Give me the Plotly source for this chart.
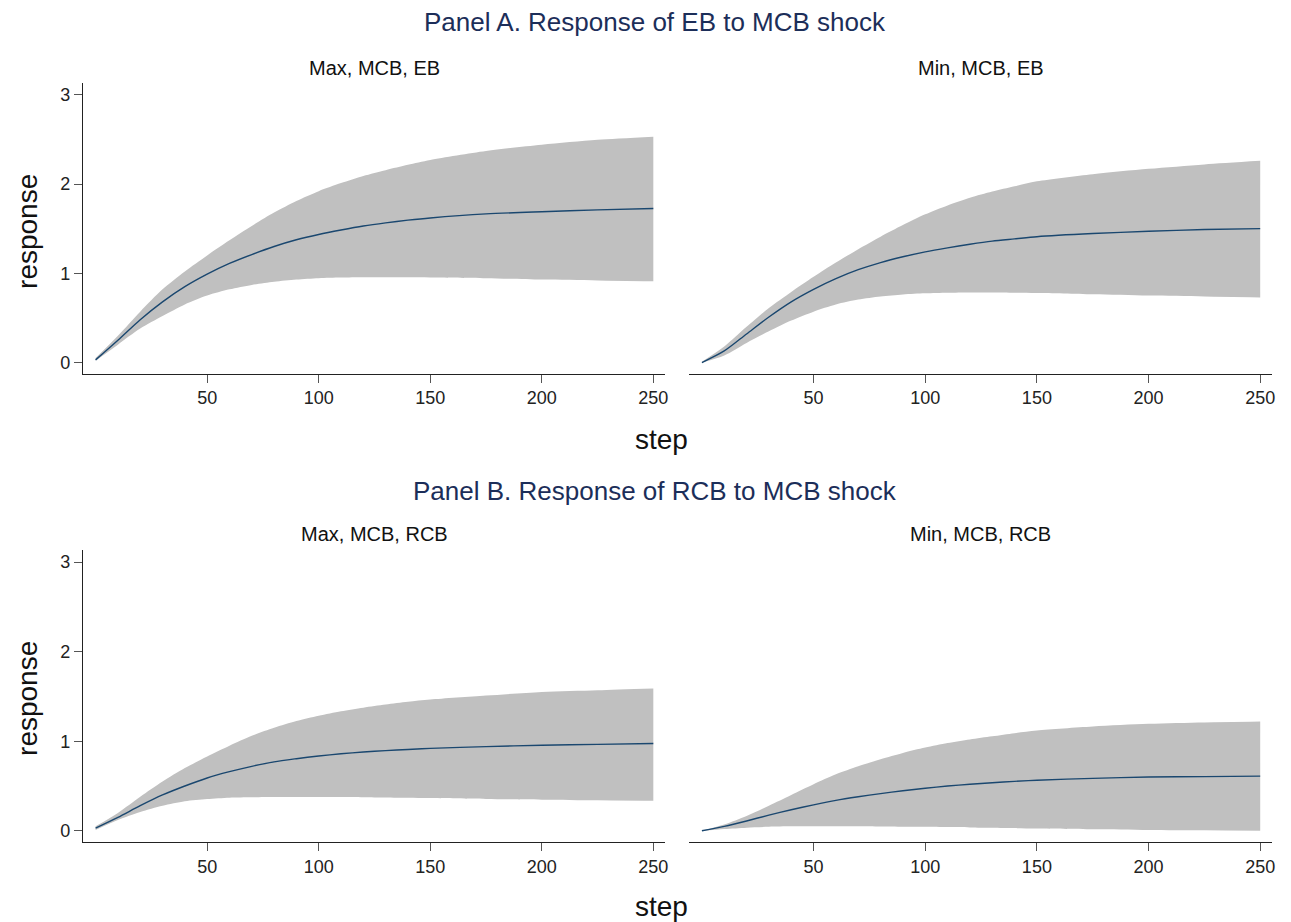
import plotly.graph_objects as go

# ---------------- data ----------------
steps = [0, 10, 20, 30, 40, 50, 60, 70, 80, 90, 100, 110, 120, 130, 140, 150, 175, 200, 225, 250]

# Panel A, left: Max, MCB, EB
a_max_irf = [0.03, 0.25, 0.48, 0.68, 0.85, 0.99, 1.11, 1.21, 1.30, 1.375, 1.435, 1.485, 1.53, 1.565, 1.595, 1.62, 1.665, 1.69, 1.71, 1.725]
a_max_hi  = [0.05, 0.30, 0.57, 0.82, 1.02, 1.20, 1.37, 1.53, 1.68, 1.81, 1.92, 2.01, 2.09, 2.155, 2.215, 2.27, 2.37, 2.44, 2.495, 2.53]
a_max_lo  = [0.02, 0.20, 0.38, 0.52, 0.65, 0.75, 0.82, 0.87, 0.905, 0.93, 0.945, 0.952, 0.955, 0.956, 0.955, 0.953, 0.945, 0.93, 0.92, 0.91]

# Panel A, right: Min, MCB, EB
a_min_irf = [0.00, 0.13, 0.32, 0.51, 0.68, 0.82, 0.94, 1.04, 1.12, 1.185, 1.24, 1.285, 1.325, 1.36, 1.385, 1.41, 1.445, 1.47, 1.49, 1.50]
a_min_hi  = [0.01, 0.18, 0.40, 0.61, 0.79, 0.96, 1.12, 1.27, 1.41, 1.54, 1.66, 1.76, 1.845, 1.915, 1.975, 2.03, 2.11, 2.17, 2.22, 2.26]
a_min_lo  = [0.00, 0.08, 0.22, 0.35, 0.47, 0.57, 0.65, 0.705, 0.74, 0.762, 0.775, 0.782, 0.785, 0.785, 0.783, 0.78, 0.765, 0.75, 0.74, 0.73]

# Panel B, left: Max, MCB, RCB
b_max_irf = [0.03, 0.15, 0.28, 0.40, 0.50, 0.59, 0.66, 0.72, 0.77, 0.805, 0.835, 0.86, 0.88, 0.895, 0.908, 0.92, 0.94, 0.955, 0.965, 0.975]
b_max_hi  = [0.05, 0.20, 0.38, 0.55, 0.70, 0.83, 0.95, 1.06, 1.15, 1.225, 1.285, 1.335, 1.375, 1.41, 1.44, 1.465, 1.51, 1.55, 1.57, 1.59]
b_max_lo  = [0.01, 0.12, 0.21, 0.28, 0.33, 0.355, 0.37, 0.375, 0.378, 0.378, 0.378, 0.377, 0.375, 0.372, 0.368, 0.365, 0.355, 0.348, 0.34, 0.335]

# Panel B, right: Min, MCB, RCB
b_min_irf = [0.00, 0.05, 0.11, 0.175, 0.235, 0.29, 0.34, 0.38, 0.415, 0.447, 0.475, 0.50, 0.52, 0.537, 0.552, 0.565, 0.585, 0.60, 0.605, 0.61]
b_min_hi  = [0.00, 0.07, 0.165, 0.28, 0.40, 0.52, 0.63, 0.72, 0.80, 0.87, 0.93, 0.98, 1.02, 1.055, 1.09, 1.12, 1.165, 1.195, 1.21, 1.22]
b_min_lo  = [0.00, 0.02, 0.035, 0.045, 0.05, 0.05, 0.05, 0.05, 0.048, 0.046, 0.045, 0.042, 0.038, 0.034, 0.03, 0.026, 0.018, 0.01, 0.005, 0.0]

panel_titles = ["Panel A. Response of EB to MCB shock", "Panel B. Response of RCB to MCB shock"]
sub_titles = ["Max, MCB, EB", "Min, MCB, EB", "Max, MCB, RCB", "Min, MCB, RCB"]
x_ticks = [50, 100, 150, 200, 250]
y_ticks = [0, 1, 2, 3]

# ---------------- layout geometry ----------------
W, H = 1291, 922
FONT = "Liberation Sans, Arial, sans-serif"
NAVY = "#1a476f"
BAND = "#c0c0c0"

def fx(px):
    return px / W

def fy(py):
    return 1 - py / H

x_dom = [(fx(83.3), fx(666.7)), (fx(691), fx(1275))]
y_dom = [(fy(373.7), fy(82.7)), (fy(842), fy(550))]

series = [
    (a_max_irf, a_max_hi, a_max_lo),
    (a_min_irf, a_min_hi, a_min_lo),
    (b_max_irf, b_max_hi, b_max_lo),
    (b_min_irf, b_min_hi, b_min_lo),
]

fig = go.Figure()
layout = dict(
    width=W, height=H,
    margin=dict(l=0, r=0, t=0, b=0),
    paper_bgcolor="white", plot_bgcolor="white",
    showlegend=False,
    font=dict(family=FONT, color="#222"),
)

annotations = []
for i, (irf, hi, lo) in enumerate(series):
    row, col = divmod(i, 2)
    n = i + 1
    xa = "x" if n == 1 else f"x{n}"
    ya = "y" if n == 1 else f"y{n}"
    fig.add_trace(go.Scatter(x=steps, y=lo, xaxis=xa, yaxis=ya, mode="lines",
                             line=dict(width=0, color=BAND, shape="spline", smoothing=0.8),
                             hoverinfo="skip"))
    fig.add_trace(go.Scatter(x=steps, y=hi, xaxis=xa, yaxis=ya, mode="lines",
                             line=dict(width=0, color=BAND, shape="spline", smoothing=0.8),
                             fill="tonexty", fillcolor=BAND, hoverinfo="skip"))
    fig.add_trace(go.Scatter(x=steps, y=irf, xaxis=xa, yaxis=ya, mode="lines",
                             line=dict(width=1.4, color=NAVY, shape="spline", smoothing=0.8)))

    xkey = "xaxis" if n == 1 else f"xaxis{n}"
    ykey = "yaxis" if n == 1 else f"yaxis{n}"
    layout[xkey] = dict(
        domain=list(x_dom[col]), anchor=ya, range=[-5.6, 255.3],
        tickmode="array", tickvals=x_ticks, ticktext=[str(v) for v in x_ticks],
        ticks="outside", ticklen=8, tickwidth=1, tickcolor="#555",
        showline=True, linecolor="#222", linewidth=1.3,
        showgrid=False, zeroline=False,
        tickfont=dict(size=18, color="#222", family=FONT),
    )
    left = col == 0
    layout[ykey] = dict(
        domain=list(y_dom[row]), anchor=xa, range=[-0.125, 3.135],
        tickmode="array", tickvals=y_ticks, ticktext=[str(v) for v in y_ticks],
        ticks="outside" if left else "", ticklen=8, tickwidth=1, tickcolor="#555",
        showline=left, linecolor="#222", linewidth=1.3,
        showticklabels=left,
        showgrid=False, zeroline=False,
        tickfont=dict(size=18, color="#222", family=FONT),
    )
    # subplot title
    sub_y = [67.5, 534][row]
    annotations.append(dict(
        text=sub_titles[i], xref="paper", yref="paper",
        x=(x_dom[col][0] + x_dom[col][1]) / 2, y=fy(sub_y),
        xanchor="center", yanchor="middle", showarrow=False,
        font=dict(size=20, color="#111", family=FONT),
    ))

for row in range(2):
    # panel title
    annotations.append(dict(
        text=panel_titles[row], xref="paper", yref="paper",
        x=fx(657), y=fy([22, 491][row]), xanchor="center", yanchor="middle",
        showarrow=False, font=dict(size=26, color="#1c2e59", family=FONT),
    ))
    # x axis title
    annotations.append(dict(
        text="step", xref="paper", yref="paper",
        x=fx(663), y=fy([440, 906][row]), xanchor="center", yanchor="middle",
        showarrow=False, font=dict(size=28, color="#111", family=FONT),
    ))
    # y axis title
    annotations.append(dict(
        text="response", xref="paper", yref="paper", textangle=-90,
        x=fx(27), y=fy([231, 698][row]), xanchor="center", yanchor="middle",
        showarrow=False, font=dict(size=28, color="#111", family=FONT),
    ))

layout["annotations"] = annotations
fig.update_layout(**layout)
fig.write_html("out.html")
